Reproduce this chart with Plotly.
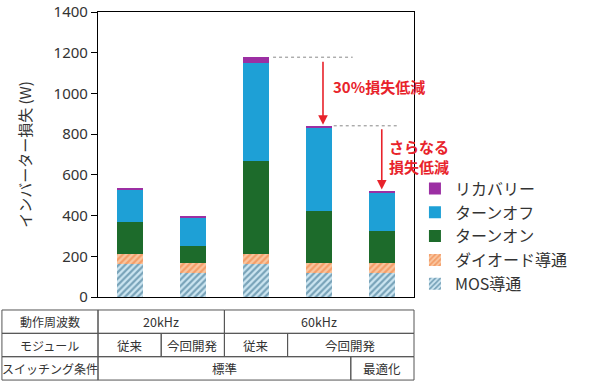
import plotly.graph_objects as go

# ---- data ----
categories = ["20kHz 従来", "20kHz 今回開発", "60kHz 従来", "60kHz 今回開発", "60kHz 今回開発 最適化"]
mos = [160, 120, 160, 120, 120]
diode = [52, 48, 53, 45, 48]
turn_on = [155, 85, 455, 258, 155]
turn_off = [157, 138, 482, 410, 186]
recovery = [10, 4, 28, 8, 11]

series_names = ["MOS導通", "ダイオード導通", "ターンオン", "ターンオフ", "リカバリー"]
y_title = "インバーター損失 (W)"
y_ticks = [0, 200, 400, 600, 800, 1000, 1200, 1400]

table_rows = [
    ("動作周波数", [(0, 2, "20kHz"), (2, 5, "60kHz")]),
    ("モジュール", [(0, 1, "従来"), (1, 2, "今回開発"), (2, 3, "従来"), (3, 5, "今回開発")]),
    ("スイッチング条件", [(0, 4, "標準"), (4, 5, "最適化")]),
]
note1 = "30%損失低減"
note2 = "さらなる<br>損失低減"

FONT = "Noto Sans CJK JP"
RED = "#e8232b"
TXT = "#333333"

fig = go.Figure()
xs = list(range(len(categories)))
styles = [
    dict(color="#cde6f2", pattern=dict(shape="/", fgcolor="#245f80", bgcolor="#cde6f2", size=4.5, solidity=0.5)),
    dict(color="#f9c6a0", pattern=dict(shape="/", fgcolor="#ee7430", bgcolor="#f9c6a0", size=4.5, solidity=0.5)),
    dict(color="#1d6b2b"),
    dict(color="#1ea0d6"),
    dict(color="#9c2fa3"),
]
for name, vals, st in zip(series_names, [mos, diode, turn_on, turn_off, recovery], styles):
    fig.add_trace(go.Bar(x=xs, y=vals, name=name, width=0.41,
                         marker=dict(line=dict(width=0), **st)))

totals = [sum(v) for v in zip(mos, diode, turn_on, turn_off, recovery)]

shapes = []
annotations = []
# dashed reference lines
shapes.append(dict(type="line", xref="x", yref="y", x0=2.27, x1=3.53, y0=totals[2], y1=totals[2],
                   line=dict(color="#888888", width=1, dash="dot")))
shapes.append(dict(type="line", xref="x", yref="y", x0=3.23, x1=4.25, y0=totals[3], y1=totals[3],
                   line=dict(color="#888888", width=1, dash="dot")))
# arrows
annotations.append(dict(x=3.06, y=totals[3] + 5, ax=3.06, ay=totals[2] - 15, xref="x", yref="y",
                        axref="x", ayref="y", text="", showarrow=True, arrowhead=2, arrowsize=1.2,
                        arrowwidth=1.6, arrowcolor=RED))
annotations.append(dict(x=3.99, y=totals[4] + 8, ax=3.99, ay=totals[3] - 10, xref="x", yref="y",
                        axref="x", ayref="y", text="", showarrow=True, arrowhead=2, arrowsize=1.2,
                        arrowwidth=1.6, arrowcolor=RED))
annotations.append(dict(x=3.94, y=1036, xref="x", yref="y", text="<b>" + note1 + "</b>", showarrow=False,
                        xanchor="center", yanchor="middle",
                        font=dict(family=FONT, size=15, color=RED)))
annotations.append(dict(x=1.016, y=690, xref="paper", yref="y", text="<b>" + note2 + "</b>", showarrow=False,
                        xanchor="center", yanchor="middle",
                        font=dict(family=FONT, size=15, color=RED)))

# table below plot (paper coordinates)
n = len(categories)
row_tops = [-0.0456, -0.1275, -0.2095]
row_h = 0.0819
left_edge = -0.304
for (label, cells), top in zip(table_rows, row_tops):
    bot = top - row_h
    shapes.append(dict(type="rect", xref="paper", yref="paper", x0=left_edge, x1=0, y0=bot, y1=top,
                       line=dict(color="#555555", width=1)))
    annotations.append(dict(x=left_edge / 2, y=(top + bot) / 2, xref="paper", yref="paper", text=label,
                            xanchor="center", yanchor="middle",
                            showarrow=False, font=dict(family=FONT, size=12, color=TXT)))
    for s, e, t in cells:
        x0, x1 = s / n, e / n
        shapes.append(dict(type="rect", xref="paper", yref="paper", x0=x0, x1=x1, y0=bot, y1=top,
                           line=dict(color="#555555", width=1)))
        annotations.append(dict(x=(x0 + x1) / 2, y=(top + bot) / 2, xref="paper", yref="paper", text=t,
                                xanchor="center", yanchor="middle",
                                showarrow=False, font=dict(family=FONT, size=12.5, color=TXT)))

fig.update_layout(
    width=600, height=384,
    margin=dict(l=98, r=186, t=12, b=87, autoexpand=False),
    barmode="stack",
    plot_bgcolor="white", paper_bgcolor="white",
    font=dict(family=FONT, color=TXT),
    shapes=shapes, annotations=annotations,
    legend=dict(x=1.003, y=0.44, xanchor="left", yanchor="top", traceorder="reversed",
                font=dict(family=FONT, size=16, color=TXT), bgcolor="rgba(0,0,0,0)",
                itemwidth=30),
    xaxis=dict(range=[-0.5, 4.5], showticklabels=False, ticks="", showline=True, linecolor="black",
               linewidth=1.2, mirror=True, showgrid=False, zeroline=False, fixedrange=True,
               automargin=False),
    yaxis=dict(range=[0, 1400], tickvals=y_ticks, ticks="outside", ticklen=6, tickcolor="black",
               showline=True, linecolor="black", linewidth=1.2, mirror=True, showgrid=False,
               zeroline=False, tickfont=dict(family="Noto Sans", size=15, color=TXT), automargin=False,
               title=dict(text=y_title, font=dict(family=FONT, size=15, color=TXT), standoff=18)),
    showlegend=True,
)

fig.write_html("out.html")
